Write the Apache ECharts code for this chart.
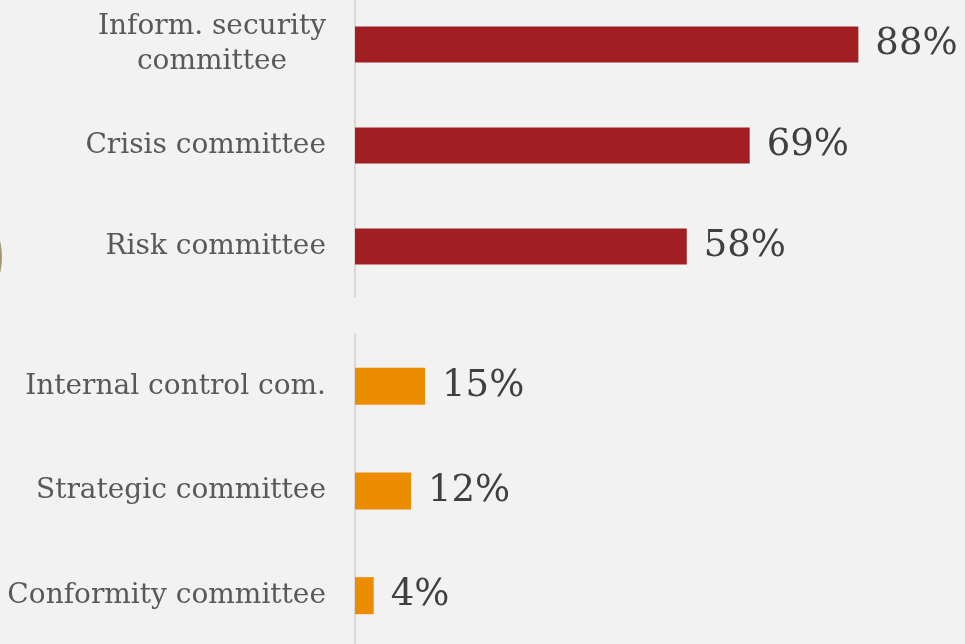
<!DOCTYPE html>
<html>
<head>
<meta charset="utf-8">
<script src="https://cdn.jsdelivr.net/npm/echarts@6/dist/echarts.min.js"></script>
<style>
  html, body { margin: 0; padding: 0; background: #F2F2F2; }
  #chart { width: 965px; height: 644px; }
</style>
</head>
<body>
<div id="chart"></div>
<script>
// Committees in place (share of respondents, %)
const categoriesTop = ['Inform. security\ncommittee', 'Crisis committee', 'Risk committee'];
const valuesTop = [88, 69, 58];

const categoriesBottom = ['Internal control com.', 'Strategic committee', 'Conformity committee'];
const valuesBottom = [15, 12, 4];

const SERIF = '"DejaVu Serif", "Liberation Serif", serif';
const LABEL_COLOR = '#595959';

// Two-line category names are centred line by line, then right-aligned as a block
function formatCategory(name) {
  if (name.indexOf('\n') < 0) return name;
  return name.split('\n').map(function (line) { return '{c|' + line + '}'; }).join('\n');
}

function categoryAxis(gridIndex, data) {
  return {
    gridIndex: gridIndex,
    type: 'category',
    data: data,
    inverse: true,
    axisLine: { show: true, lineStyle: { color: '#D9D9D9', width: 2 } },
    axisTick: { show: false },
    splitLine: { show: false },
    axisLabel: {
      margin: 29,
      fontFamily: SERIF,
      fontSize: 28,
      lineHeight: 35,
      color: LABEL_COLOR,
      align: 'right',
      formatter: formatCategory,
      rich: {
        c: {
          width: 228,
          align: 'center',
          fontFamily: SERIF,
          fontSize: 28,
          lineHeight: 35,
          color: LABEL_COLOR
        }
      }
    }
  };
}

function valueAxis(gridIndex) {
  return { gridIndex: gridIndex, type: 'value', min: 0, max: 100, show: false };
}

function barSeries(index, data, color, width) {
  return {
    type: 'bar',
    xAxisIndex: index,
    yAxisIndex: index,
    data: data,
    barWidth: width,
    itemStyle: { color: color },
    label: {
      show: true,
      position: 'right',
      distance: 17,
      formatter: '{c}%',
      fontFamily: SERIF,
      fontSize: 37,
      color: '#404040'
    },
    silent: true
  };
}

const chart = echarts.init(document.getElementById('chart'));
chart.setOption({
  backgroundColor: '#F2F2F2',
  animation: false,
  grid: [
    { left: 355, top: -6, height: 303, width: 572, outerBoundsMode: 'none', containLabel: false },
    { left: 355, top: 334, height: 314, width: 467, outerBoundsMode: 'none', containLabel: false }
  ],
  xAxis: [valueAxis(0), valueAxis(1)],
  yAxis: [categoryAxis(0, categoriesTop), categoryAxis(1, categoriesBottom)],
  series: [
    barSeries(0, valuesTop, '#A11F22', 36),
    barSeries(1, valuesBottom, '#EC8C00', 37)
  ],
  graphic: [
    {
      type: 'circle',
      shape: { cx: -66, cy: 257, r: 68 },
      style: { fill: '#A39A74' },
      silent: true
    }
  ]
});
</script>
</body>
</html>
